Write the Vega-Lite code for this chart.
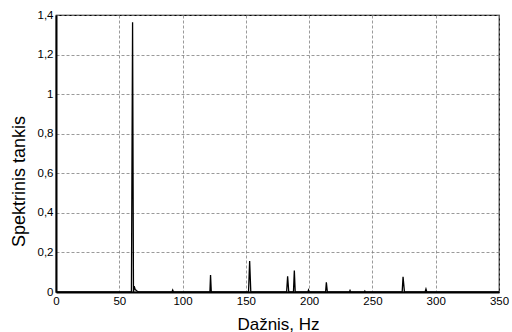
{
  "$schema": "https://vega.github.io/schema/vega-lite/v6.json",
  "autosize": "none",
  "width": 443,
  "height": 277,
  "padding": {"left": 56, "top": 15, "right": 13, "bottom": 40},
  "background": "white",
  "config": {
    "font": "Liberation Sans",
    "view": {"stroke": "black", "strokeWidth": 1.2},
    "axis": {
      "labelFont": "Liberation Sans",
      "titleFont": "Liberation Sans",
      "labelFontSize": 11.5,
      "titleFontWeight": "normal",
      "labelColor": "black",
      "titleColor": "black",
      "domainColor": "black",
      "domainWidth": 2,
      "tickColor": "black",
      "ticks": false,
      "gridColor": "#808080",
      "gridDash": [3, 2],
      "gridWidth": 0.8,
      "gridOpacity": 1
    }
  },
  "data": {
    "values": [
      {"f": 0, "s": 0},
      {"f": 59.6, "s": 0},
      {"f": 60.5, "s": 1.363},
      {"f": 61.2, "s": 0.0},
      {"f": 61.8, "s": 0.03},
      {"f": 62.6, "s": 0.012},
      {"f": 64, "s": 0.005},
      {"f": 65.5, "s": 0},
      {"f": 91.6, "s": 0},
      {"f": 92.2, "s": 0.01},
      {"f": 92.8, "s": 0},
      {"f": 121.6, "s": 0},
      {"f": 122.1, "s": 0.086},
      {"f": 122.7, "s": 0},
      {"f": 152.1, "s": 0},
      {"f": 153, "s": 0.157},
      {"f": 153.9, "s": 0},
      {"f": 182.2, "s": 0},
      {"f": 183, "s": 0.079},
      {"f": 183.9, "s": 0},
      {"f": 187.6, "s": 0},
      {"f": 188.3, "s": 0.108},
      {"f": 189, "s": 0},
      {"f": 199, "s": 0},
      {"f": 199.5, "s": 0.01},
      {"f": 200, "s": 0},
      {"f": 213, "s": 0},
      {"f": 213.6, "s": 0.049},
      {"f": 214.4, "s": 0},
      {"f": 231.8, "s": 0},
      {"f": 232.3, "s": 0.008},
      {"f": 232.8, "s": 0},
      {"f": 243.5, "s": 0},
      {"f": 244, "s": 0.005},
      {"f": 244.5, "s": 0},
      {"f": 273.5, "s": 0},
      {"f": 274.2, "s": 0.077},
      {"f": 275.3, "s": 0},
      {"f": 291.6, "s": 0},
      {"f": 292.3, "s": 0.015},
      {"f": 293, "s": 0},
      {"f": 350, "s": 0}
    ]
  },
  "mark": {"type": "line", "color": "black", "strokeWidth": 1.3, "clip": true},
  "encoding": {
    "x": {
      "field": "f",
      "type": "quantitative",
      "scale": {"domain": [0, 350], "nice": false, "zero": false},
      "axis": {"values": [0, 50, 100, 150, 200, 250, 300, 350], "title": "Dažnis, Hz", "titleFontSize": 17, "labelPadding": 3, "titleX": 222, "titleY": 37, "titleBaseline": "alphabetic", "titleAlign": "center", "labelFlush": false}
    },
    "y": {
      "field": "s",
      "type": "quantitative",
      "scale": {"domain": [0, 1.4], "nice": false},
      "axis": {"values": [0, 0.2, 0.4, 0.6, 0.8, 1, 1.2, 1.4], "title": "Spektrinis tankis", "titleFontSize": 18, "titleX": -32, "titleY": 166, "titleAlign": "center", "titleBaseline": "alphabetic", "titleAngle": -90, "labelExpr": "replace(format(datum.value, '~g'), '.', ',')", "labelPadding": 3, "labelFlush": false}
    }
  }
}
